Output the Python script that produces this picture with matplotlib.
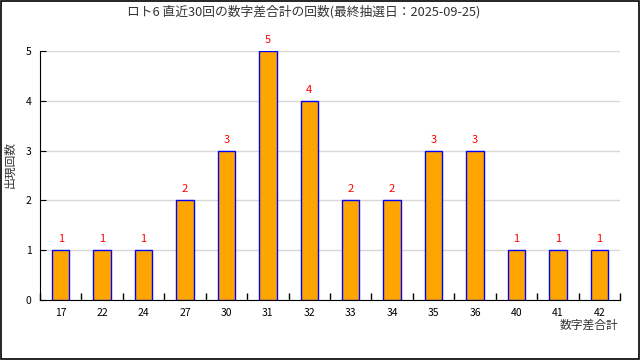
import matplotlib
matplotlib.use('Agg')
import matplotlib.pyplot as plt
import numpy as np

plt.rcParams['font.family'] = ['Noto Sans CJK JP', 'DejaVu Sans']

# data
sums = ['17', '22', '24', '27', '30', '31', '32', '33', '34', '35', '36', '40', '41', '42']
counts = [1, 1, 1, 2, 3, 5, 4, 2, 2, 3, 3, 1, 1, 1]

fig = plt.figure(figsize=(6.4, 3.6), dpi=100)
ax = fig.add_axes([40/640, 60/360, 580/640, 249/360])

x = np.arange(len(sums))
ax.bar(x, counts, width=0.42, color='#ffa500', edgecolor='#0000ff', linewidth=1, zorder=3)
for xi, c in zip(x, counts):
    ax.text(xi, c + 0.12, str(c), color='#ff0000', ha='center', va='bottom', fontsize=8, clip_on=False)

ax.set_xlim(-0.5, len(sums) - 0.5)
ax.set_ylim(0, 5)
ax.set_yticks(range(6))
ax.yaxis.grid(True, color='#d8d8d8', linewidth=1, zorder=0)
ax.set_axisbelow(True)

# category labels under the bars, ticks on the boundaries
ax.set_xticks(x)
ax.set_xticklabels(sums, fontsize=7.5)
ax.tick_params(axis='x', which='major', length=0, pad=6)
ax.set_xticks(np.arange(len(sums) + 1) - 0.5, minor=True)
ax.tick_params(axis='x', which='minor', direction='in', length=5, width=1)
ax.tick_params(axis='y', direction='in', length=4, labelsize=7.5, pad=6)

for s in ['top', 'right']:
    ax.spines[s].set_visible(False)

fig.text(304/640, 1 - 12/360, 'ロト6 直近30回の数字差合計の回数(最終抽選日：2025-09-25)',
         ha='center', va='center', fontsize=9.2, color='#333333')
fig.text(10/640, 1 - 165/360, '出現回数', rotation=90, ha='center', va='center', fontsize=8.5, color='#333333')
fig.text(618/640, 1 - 319/360, '数字差合計', ha='right', va='top', fontsize=8.5, color='#333333')

# figure border
fig.patches.append(plt.Rectangle((0.001, 0.002), 0.997, 0.996, transform=fig.transFigure,
                                 fill=False, edgecolor='black', linewidth=1.2))

fig.savefig('out.png', dpi=100)
